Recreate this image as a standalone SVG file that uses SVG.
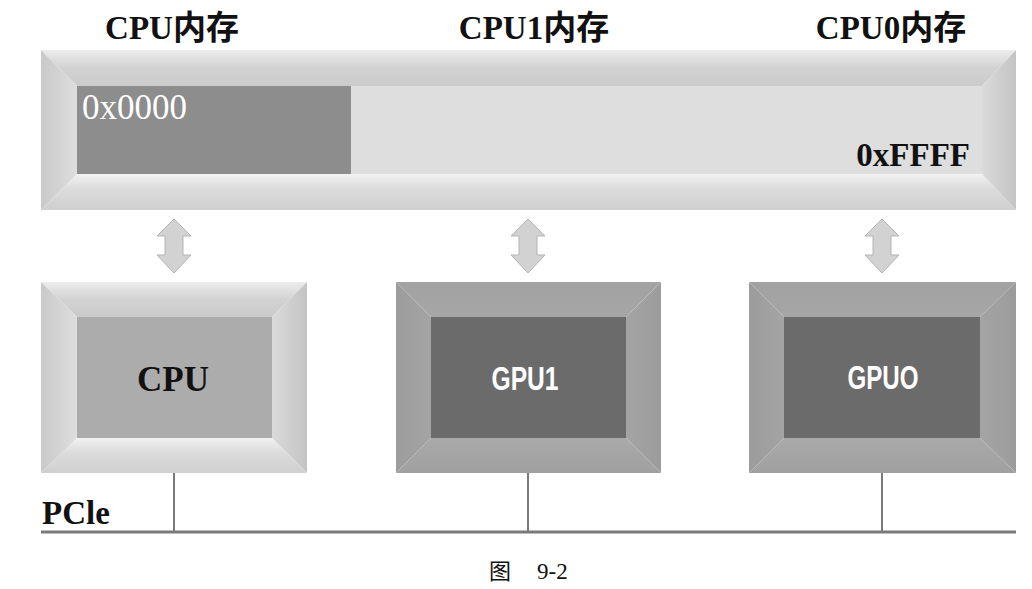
<svg xmlns="http://www.w3.org/2000/svg" width="1032" height="589" viewBox="0 0 1032 589">
<style>
.t{font-family:"Liberation Serif","Noto Sans CJK SC",serif;font-weight:bold;font-size:33px;fill:#111}
.w{font-family:"Liberation Serif","Noto Sans CJK SC",serif;font-size:35px;fill:#fff}
.g{font-family:"Liberation Sans","Noto Sans CJK SC",sans-serif;font-weight:bold;font-size:33px;fill:#fff}
.cap{font-family:"Liberation Serif","Noto Sans CJK SC",serif;font-size:22px;fill:#111}
.arr{fill:#d2d2d2;stroke:#b4b4b4;stroke-width:1}
.wire{stroke:#7a7a7a;stroke-width:2;fill:none}
</style>
<defs>
<linearGradient id="lt" x1="0" y1="0" x2="0" y2="1"><stop offset="0" stop-color="#ececec"/><stop offset="0.5" stop-color="#d2d2d2"/><stop offset="1" stop-color="#cbcbcb"/></linearGradient>
<linearGradient id="lb" x1="0" y1="0" x2="0" y2="1"><stop offset="0" stop-color="#f2f2f2"/><stop offset="0.4" stop-color="#dcdcdc"/><stop offset="1" stop-color="#cfcfcf"/></linearGradient>
<linearGradient id="ll" x1="0" y1="0" x2="1" y2="0"><stop offset="0" stop-color="#c9c9c9"/><stop offset="1" stop-color="#dedede"/></linearGradient>
<linearGradient id="lr" x1="0" y1="0" x2="1" y2="0"><stop offset="0" stop-color="#dadada"/><stop offset="1" stop-color="#c4c4c4"/></linearGradient>
<linearGradient id="dt" x1="0" y1="0" x2="0" y2="1"><stop offset="0" stop-color="#a2a2a2"/><stop offset="1" stop-color="#a6a6a6"/></linearGradient>
<linearGradient id="db" x1="0" y1="0" x2="0" y2="1"><stop offset="0" stop-color="#a9a9a9"/><stop offset="1" stop-color="#a0a0a0"/></linearGradient>
<linearGradient id="dl" x1="0" y1="0" x2="1" y2="0"><stop offset="0" stop-color="#9c9c9c"/><stop offset="1" stop-color="#a4a4a4"/></linearGradient>
<linearGradient id="dr" x1="0" y1="0" x2="1" y2="0"><stop offset="0" stop-color="#a4a4a4"/><stop offset="1" stop-color="#9c9c9c"/></linearGradient>
</defs>
<rect width="1032" height="589" fill="#fff"/>

<g id="titles">
<text class="t" x="172" y="39" text-anchor="middle">CPU内存</text>
<text class="t" x="534" y="39" text-anchor="middle">CPU1内存</text>
<text class="t" x="891" y="39" text-anchor="middle">CPU0内存</text>
</g>

<g id="memory">
<polygon points="41,50 1016,50 982,86 77,86" fill="url(#lt)"/>
<polygon points="41,210 1016,210 982,174 77,174" fill="url(#lb)"/>
<polygon points="41,50 77,86 77,174 41,210" fill="url(#ll)"/>
<polygon points="1016,50 982,86 982,174 1016,210" fill="url(#lr)"/>
<rect x="77" y="86" width="905" height="88" fill="#dedede"/>
<rect x="77" y="86" width="274" height="88" fill="#8d8d8d"/>
<text class="w" x="82" y="119">0x0000</text>
<text class="t" x="970" y="166" text-anchor="end">0xFFFF</text>
</g>

<g id="cpu">
<polygon points="41,282 307,282 272,317 77,317" fill="url(#lt)"/>
<polygon points="41,473 307,473 272,438 77,438" fill="url(#lb)"/>
<polygon points="41,282 77,317 77,438 41,473" fill="url(#ll)"/>
<polygon points="307,282 272,317 272,438 307,473" fill="url(#lr)"/>
<rect x="77" y="317" width="195" height="121" fill="#acacac"/>
<text class="t" x="173" y="391" text-anchor="middle" style="font-size:35px">CPU</text>
</g>

<g id="gpu1">
<polygon points="396,282 661,282 626,317 431,317" fill="url(#dt)"/>
<polygon points="396,473 661,473 626,438 431,438" fill="url(#db)"/>
<polygon points="396,282 431,317 431,438 396,473" fill="url(#dl)"/>
<polygon points="661,282 626,317 626,438 661,473" fill="url(#dr)"/>
<rect x="431" y="317" width="195" height="121" fill="#6b6b6b"/>
<text class="g" x="525" y="390" text-anchor="middle" textLength="67" lengthAdjust="spacingAndGlyphs">GPU1</text>
</g>

<g id="gpu0">
<polygon points="749,282 1016,282 980,317 784,317" fill="url(#dt)"/>
<polygon points="749,473 1016,473 980,438 784,438" fill="url(#db)"/>
<polygon points="749,282 784,317 784,438 749,473" fill="url(#dl)"/>
<polygon points="1016,282 980,317 980,438 1016,473" fill="url(#dr)"/>
<rect x="784" y="317" width="196" height="121" fill="#6b6b6b"/>
<text class="g" x="883" y="389" text-anchor="middle" textLength="71" lengthAdjust="spacingAndGlyphs">GPUO</text>
</g>

<g id="pcie">
<text class="t" x="42" y="524">PCle</text>
</g>

<g id="connectors">
<polygon class="arr" points="174,219 191,236 183,236 183,255 191,255 174,273 157,255 165,255 165,236 157,236"/>
<polygon class="arr" points="528,219 545,236 537,236 537,255 545,255 528,273 511,255 519,255 519,236 511,236"/>
<polygon class="arr" points="882,219 899,236 891,236 891,255 899,255 882,273 865,255 873,255 873,236 865,236"/>
<line class="wire" x1="174" y1="473" x2="174" y2="532"/>
<line class="wire" x1="528" y1="473" x2="528" y2="532"/>
<line class="wire" x1="882" y1="473" x2="882" y2="532"/>
<line x1="41" y1="532" x2="1016" y2="532" stroke="#7a7a7a" stroke-width="3"/>
</g>

<g id="caption">
<text class="cap" x="489" y="579">图</text>
<text class="cap" x="537" y="579" style="font-size:23px">9-2</text>
</g>
</svg>
